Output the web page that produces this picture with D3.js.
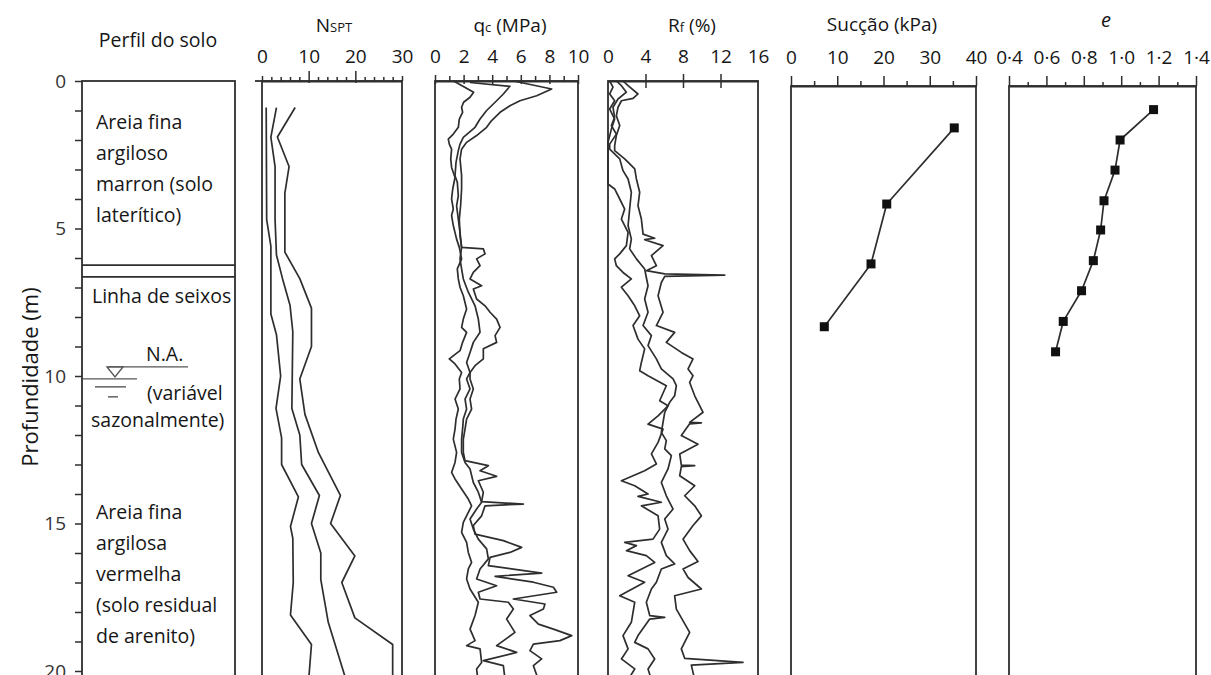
<!DOCTYPE html>
<html>
<head>
<meta charset="utf-8">
<script src="https://cdn.jsdelivr.net/npm/d3@7"></script>
<style>
    body { margin: 0; background: #fff; }
    svg { display: block; font-family: "Open Sans", sans-serif; }
</style>
</head>
<body>
<svg id="chart" width="1211" height="675"></svg>
<script>
// data (depth in m, value)
var depthTicks = d3.range(0, 21, 1);
var layerBounds = [6.24, 6.64];
var waterTable = 9.69;

var nsptLow = [[0.9,0.9],[4.7,1.0],[5.6,1.9],[7.9,1.9],[8.6,3.1],[10.0,4.0],[11.1,3.0],[12.1,4.2],[13.0,4.2],[14.1,7.8],[15.1,6.1],[15.5,6.6],[17.0,6.7],[18.1,6.1],[19.1,10.6],[20.3,10.0]];
var nsptMid = [[0.9,3.1],[1.9,1.9],[2.9,2.8],[4.7,2.8],[5.9,3.1],[6.7,4.4],[7.6,6.0],[8.5,6.6],[11.1,6.4],[12.0,8.1],[13.0,8.5],[14.05,12.3],[15.0,10.6],[16.0,12.6],[16.9,12.6],[18.35,14.2],[20.3,18.0]];
var nsptHigh = [[0.9,7.1],[1.9,3.3],[2.9,5.8],[3.8,4.9],[5.8,4.9],[6.7,8.1],[7.7,10.6],[9.0,10.6],[10.1,8.1],[11.3,9.2],[12.6,12.1],[14.05,16.8],[15.0,14.7],[16.1,19.9],[17.0,17.1],[18.2,19.9],[19.1,28.0],[20.3,28.0]];

var qcLow = [[0.0,1.3],[0.38,2.7],[0.55,2.45],[0.72,2.0],[0.89,1.86],[1.06,1.93],[1.29,1.7],[1.57,1.63],[1.8,1.28],[1.97,0.93],[2.14,1.0],[2.31,1.16],[2.64,1.1],[2.93,1.16],[3.27,1.4],[3.66,1.24],[4.0,1.16],[4.34,1.28],[4.56,1.16],[4.9,1.28],[5.36,1.51],[5.64,1.7],[6.03,1.86],[6.37,1.56],[6.71,1.63],[6.99,1.75],[7.28,1.98],[7.73,2.21],[8.07,1.98],[8.35,1.86],[8.52,2.21],[8.86,1.93],[9.14,1.75],[9.42,1.0],[9.59,1.4],[9.88,1.86],[10.1,1.7],[10.44,1.75],[10.78,1.4],[11.12,1.63],[11.46,1.47],[11.8,1.4],[12.14,1.28],[12.59,1.51],[12.93,1.4],[13.27,1.16],[13.49,1.4],[13.83,1.86],[14.17,2.33],[14.4,2.56],[14.62,2.33],[14.96,1.98],[15.3,1.86],[15.64,2.21],[15.98,2.33],[16.32,2.56],[16.54,2.33],[16.88,2.21],[17.22,2.45],[17.67,3.03],[18.12,2.8],[18.58,2.45],[18.97,2.8],[19.14,2.21],[19.25,3.15],[19.71,3.26],[19.93,2.91],[20.3,3.0]];
var qcMid = [[0.05,2.45],[0.18,5.24],[0.44,4.78],[0.67,4.31],[1.0,3.61],[1.29,3.15],[1.57,2.8],[1.91,1.98],[2.14,1.75],[2.36,1.63],[2.76,1.47],[3.21,1.4],[3.43,1.56],[3.89,1.63],[4.23,1.51],[4.68,1.63],[5.13,1.75],[5.64,1.86],[6.03,1.75],[6.37,1.86],[6.71,1.98],[7.16,2.33],[7.62,2.8],[8.07,3.03],[8.52,3.15],[8.86,2.68],[9.2,2.45],[9.54,2.21],[9.88,2.45],[10.1,2.21],[10.44,2.45],[10.78,2.1],[11.12,2.21],[11.46,1.98],[11.8,1.93],[12.14,1.86],[12.59,1.86],[12.93,2.1],[13.15,2.45],[13.61,2.68],[13.94,3.03],[14.28,3.26],[14.51,2.91],[14.85,2.45],[15.19,2.68],[15.53,3.03],[15.86,3.61],[16.2,3.73],[16.54,3.15],[16.88,2.91],[17.11,4.31],[17.33,3.03],[17.56,3.15],[17.67,5.13],[17.9,5.48],[18.24,5.01],[18.69,5.59],[19.14,4.31],[19.37,5.71],[19.65,3.38],[19.82,4.78],[20.3,4.9]];
var qcHigh = [[0.0,5.5],[0.27,8.16],[0.5,7.11],[0.67,5.94],[0.84,5.24],[1.06,4.55],[1.34,3.96],[1.57,3.61],[1.85,2.91],[2.08,2.21],[2.31,1.86],[2.64,1.75],[3.21,1.86],[3.66,1.86],[4.23,1.79],[4.68,1.7],[5.24,1.75],[5.64,1.86],[5.69,3.38],[5.86,3.5],[6.03,2.91],[6.26,3.15],[6.49,2.68],[6.71,2.45],[6.94,3.26],[7.05,2.68],[7.39,2.91],[7.62,3.5],[7.84,3.85],[8.07,4.31],[8.35,4.55],[8.63,4.2],[8.86,4.31],[9.08,3.38],[9.42,3.38],[9.65,2.8],[9.88,2.45],[10.1,2.45],[10.44,2.68],[10.78,2.45],[11.12,2.56],[11.46,2.21],[11.8,2.1],[12.14,1.98],[12.59,1.98],[12.87,2.1],[13.04,3.73],[13.21,3.15],[13.4,4.31],[13.55,3.03],[13.94,3.38],[14.26,3.26],[14.34,6.18],[14.4,3.5],[14.74,3.26],[15.07,2.68],[15.36,2.8],[15.58,4.78],[15.81,6.06],[15.98,5.24],[16.15,3.85],[16.43,3.73],[16.68,7.46],[16.79,4.2],[16.99,6.88],[17.16,8.28],[17.33,8.51],[17.56,5.48],[17.73,7.69],[17.9,7.58],[18.12,6.64],[18.41,7.23],[18.58,8.28],[18.8,9.56],[18.97,8.74],[19.09,6.88],[19.31,6.64],[19.59,7.46],[19.82,6.88],[20.3,7.23]];

var rfLow = [[0.0,0.18],[0.21,0.53],[0.44,0.18],[0.67,0.71],[0.95,0.18],[1.29,0.71],[1.63,0.36],[2.08,0],[3.49,0],[3.66,0.71],[4.0,1.25],[4.34,1.78],[4.68,1.43],[5.13,2.14],[5.58,1.96],[5.86,1.25],[6.03,0.71],[6.26,0.89],[6.49,1.6],[6.71,2.49],[6.99,1.43],[7.28,2.14],[7.62,2.85],[7.96,3.38],[8.29,2.67],[8.75,3.2],[9.08,3.91],[9.54,3.56],[9.82,3.38],[9.99,4.27],[10.33,6.22],[10.84,5.51],[11.01,6.4],[11.35,5.34],[11.63,4.27],[11.8,5.87],[12.25,5.34],[12.64,4.63],[12.98,5.16],[13.21,3.91],[13.55,1.43],[13.72,2.85],[14.0,4.27],[14.08,3.2],[14.28,5.69],[14.4,3.56],[14.74,5.34],[15.19,5.51],[15.53,4.8],[15.64,1.78],[15.75,3.03],[15.92,1.96],[16.09,4.09],[16.32,4.98],[16.77,2.14],[16.99,3.91],[17.45,1.25],[17.67,2.85],[18.35,2.49],[18.8,1.6],[19.25,2.14],[19.59,1.43],[19.93,2.85],[20.3,2.14]];
var rfMid = [[0.0,0.89],[0.16,1.43],[0.38,1.96],[0.61,1.07],[0.89,0.53],[1.23,0.71],[1.51,0.36],[1.8,0.89],[2.14,0.18],[2.31,0.18],[2.64,1.25],[3.04,1.6],[3.32,2.14],[3.77,2.49],[4.34,2.31],[4.9,2.14],[5.36,2.49],[5.69,2.31],[6.03,3.03],[6.37,3.91],[6.66,4.09],[6.94,4.27],[7.39,3.91],[7.84,4.27],[8.29,3.74],[8.63,4.63],[8.97,4.27],[9.42,5.16],[9.76,5.69],[10.1,6.94],[10.33,7.29],[10.67,7.11],[10.89,6.58],[11.23,6.05],[11.57,5.87],[11.91,5.69],[12.19,6.22],[12.47,6.05],[12.7,6.76],[13.15,6.4],[13.61,5.69],[14.06,6.22],[14.51,6.94],[14.85,6.05],[15.19,6.4],[15.64,5.69],[16.09,6.22],[16.37,7.11],[16.54,5.69],[16.99,5.16],[17.22,4.63],[17.67,4.09],[18.12,4.45],[18.18,6.05],[18.24,4.45],[18.8,3.2],[19.03,2.85],[19.25,4.27],[19.59,4.98],[19.93,4.27],[20.3,4.63]];
var rfHigh = [[0.0,1.6],[0.16,2.14],[0.44,3.2],[0.59,2.67],[0.67,1.43],[0.89,1.07],[1.18,0.89],[1.51,1.25],[1.85,0.89],[2.19,0.71],[2.36,0.71],[2.64,1.78],[2.98,2.85],[3.32,3.03],[3.77,3.38],[4.23,3.2],[4.68,3.56],[5.19,3.74],[5.33,4.98],[5.38,3.91],[5.58,5.87],[5.92,4.63],[6.26,5.16],[6.43,4.09],[6.54,6.05],[6.58,12.45],[6.62,6.05],[6.83,5.69],[7.28,5.34],[7.84,5.87],[8.29,5.16],[8.52,7.11],[8.86,6.22],[9.2,7.82],[9.42,9.07],[9.76,8.54],[9.99,9.07],[10.22,8.71],[10.67,9.25],[11.23,10.14],[11.57,8.71],[11.59,9.96],[11.62,8.71],[12.02,7.82],[12.31,9.6],[12.64,7.65],[13.02,7.82],[13.04,9.25],[13.07,7.82],[13.38,7.65],[13.72,9.25],[14.06,8.18],[14.4,9.25],[14.74,9.96],[15.07,9.07],[15.53,8.0],[15.92,8.71],[16.29,9.6],[16.54,8.0],[16.83,8.54],[17.22,9.96],[17.45,7.11],[17.9,7.29],[18.69,8.71],[19.25,7.82],[19.57,8.18],[19.71,14.4],[19.8,8.89],[20.3,9.25]];

var succaoDepth = [1.59, 4.17, 6.2, 8.33];
var succaoValues = [35.3, 20.7, 17.3, 7.2];
var eDepth = [0.97, 2.0, 3.02, 4.06, 5.05, 6.09, 7.11, 8.15, 9.18];
var eValues = [1.173, 0.994, 0.967, 0.908, 0.89, 0.851, 0.788, 0.69, 0.649];

// layout
var LINE = '#2e2e2e',
    TEXT = '#161616',
    TOP = 81,
    BOTTOM = 700;

var svg = d3.select('#chart');
var y = d3.scaleLinear().domain([0, 20]).range([TOP, 671]);

var xNspt = d3.scaleLinear().domain([0, 30]).range([262, 402]),
    xQc = d3.scaleLinear().domain([0, 10]).range([435, 578]),
    xRf = d3.scaleLinear().domain([0, 16]).range([608, 758]),
    xSuc = d3.scaleLinear().domain([0, 40]).range([791, 976]),
    xE = d3.scaleLinear().domain([0.4, 1.4]).range([1009, 1196]);

var box = function(x0, x1, top) {
    svg.append('rect')
        .attr('x', x0).attr('y', top)
        .attr('width', x1 - x0).attr('height', BOTTOM - top)
        .attr('fill', 'none')
        .attr('stroke', LINE)
        .attr('stroke-width', 1.8);
}

var topAxis = function(scale, top, values, format, tickLen, pad) {
    var axis = d3.axisTop(scale)
        .tickValues(values)
        .tickFormat(format)
        .tickSizeOuter(0)
        .tickSizeInner(0)
        .tickPadding(pad);

    var g = svg.append('g')
        .attr('transform', 'translate(0,' + top + ')')
        .call(axis)
        .attr('font-size', null)
        .attr('font-family', null);

    g.select('.domain').attr('stroke', LINE).attr('stroke-width', 1.8);
    g.selectAll('.tick line')
        .attr('stroke', LINE)
        .attr('stroke-width', 1.5)
        .attr('y1', d => tickLen(d)[1])
        .attr('y2', d => -tickLen(d)[0]);
    g.selectAll('.tick text')
        .attr('font-size', 19)
        .attr('fill', TEXT);
    return g;
}

var title = function(x, yPos, parts, anchor) {
    var t = svg.append('text')
        .attr('x', x).attr('y', yPos)
        .attr('text-anchor', anchor || 'middle')
        .attr('fill', TEXT);
    parts.forEach(p => {
        t.append('tspan')
            .attr('font-size', p.size)
            .attr('font-style', p.italic ? 'italic' : null)
            .text(p.text);
    });
}

var curve = function(data, xScale) {
    svg.append('path')
        .datum(data)
        .attr('fill', 'none')
        .attr('stroke', LINE)
        .attr('stroke-width', 1.7)
        .attr('stroke-linejoin', 'round')
        .attr('d', d3.line().x(d => xScale(d[1])).y(d => y(d[0])));
}

var markers = function(depths, values, xScale) {
    var pts = depths.map((d, i) => [d, values[i]]);
    curve(pts, xScale);
    svg.append('g').selectAll('rect')
        .data(pts)
        .enter().append('rect')
            .attr('x', d => xScale(d[1]) - 4.5)
            .attr('y', d => y(d[0]) - 4.5)
            .attr('width', 9)
            .attr('height', 9)
            .attr('fill', '#111');
}

// depth axis + soil profile
var yAxis = d3.axisLeft(y)
    .tickValues(depthTicks)
    .tickFormat(d => d % 5 === 0 ? d : '')
    .tickSizeOuter(0)
    .tickSize(7)
    .tickPadding(9);

var yg = svg.append('g')
    .attr('transform', 'translate(82,0)')
    .call(yAxis)
    .attr('font-size', null)
    .attr('font-family', null);
yg.select('.domain').remove();
yg.selectAll('.tick line').attr('stroke', LINE).attr('stroke-width', 1.5);
yg.selectAll('.tick text').attr('font-size', 19).attr('fill', '#333');

svg.append('text')
    .attr('transform', 'translate(38,377) rotate(-90)')
    .attr('text-anchor', 'middle')
    .attr('font-size', 22)
    .attr('fill', TEXT)
    .text('Profundidade (m)');

box(82, 235, TOP);
layerBounds.forEach(d => {
    svg.append('line')
        .attr('x1', 82).attr('x2', 235)
        .attr('y1', y(d)).attr('y2', y(d))
        .attr('stroke', LINE).attr('stroke-width', 1.8);
});

var soilText = [
    { x: 96, y: 129, t: 'Areia fina' },
    { x: 96, y: 160, t: 'argiloso' },
    { x: 96, y: 191, t: 'marron (solo' },
    { x: 96, y: 222, t: 'laterítico)' },
    { x: 92, y: 303, t: 'Linha de seixos' },
    { x: 146, y: 361, t: 'N.A.' },
    { x: 147, y: 400, t: '(variável' },
    { x: 91, y: 427, t: 'sazonalmente)' },
    { x: 96, y: 519, t: 'Areia fina' },
    { x: 96, y: 550, t: 'argilosa' },
    { x: 96, y: 581, t: 'vermelha' },
    { x: 96, y: 612, t: '(solo residual' },
    { x: 96, y: 643, t: 'de arenito)' }
];
svg.append('g').selectAll('text')
    .data(soilText)
    .enter().append('text')
        .attr('x', d => d.x)
        .attr('y', d => d.y)
        .attr('font-size', 19.5)
        .attr('fill', TEXT)
        .text(d => d.t);

// water table symbol
var wy = y(waterTable);
var wt = svg.append('g').attr('stroke', '#555').attr('stroke-width', 1.4).attr('fill', 'none');
wt.append('line').attr('x1', 108).attr('x2', 188).attr('y1', wy).attr('y2', wy);
wt.append('path').attr('d', 'M107,' + wy + 'L123,' + wy + 'L115,' + (wy + 10) + 'Z');
wt.append('line').attr('x1', 83).attr('x2', 137).attr('y1', wy + 12).attr('y2', wy + 12);
wt.append('line').attr('x1', 95).attr('x2', 126).attr('y1', wy + 20).attr('y2', wy + 20);
wt.append('line').attr('x1', 108).attr('x2', 118).attr('y1', wy + 30).attr('y2', wy + 30);

title(158, 47, [{ text: 'Perfil do solo', size: 19.5 }]);

// NSPT
box(262, 402, TOP);
topAxis(xNspt, TOP, d3.range(0, 31, 2), d => d % 10 === 0 ? d : '',
    d => (d === 10 || d === 20) ? [10, 2] : (d % 10 === 0 ? [5, 0] : [4, 0]), 18);
svg.append('line').attr('x1', 255).attr('x2', 262).attr('y1', TOP).attr('y2', TOP)
    .attr('stroke', LINE).attr('stroke-width', 1.8);
title(334, 32, [{ text: 'N', size: 19 }, { text: 'SPT', size: 13 }]);
curve(nsptLow, xNspt);
curve(nsptMid, xNspt);
curve(nsptHigh, xNspt);

// qc
box(435, 578, TOP);
topAxis(xQc, TOP, d3.range(0, 11, 1), d => d % 2 === 0 ? d : '',
    d => d % 2 === 0 ? [6, 3] : [5, 0], 18);
title(510, 32, [{ text: 'q', size: 19 }, { text: 'c', size: 13 }, { text: ' (MPa)', size: 19 }]);
curve(qcLow, xQc);
curve(qcMid, xQc);
curve(qcHigh, xQc);

// Rf
box(608, 758, TOP);
topAxis(xRf, TOP, [0, 4, 8, 12, 16], d => d,
    d => (d === 0 || d === 16) ? [0, 0] : [7, 7], 18);
title(692, 32, [{ text: 'R', size: 19 }, { text: 'f', size: 13 }, { text: ' (%)', size: 19 }]);
curve(rfLow, xRf);
curve(rfMid, xRf);
curve(rfHigh, xRf);

// Succao
var TOP2 = 86;
box(791, 976, TOP2);
topAxis(xSuc, TOP2, d3.range(0, 41, 5), d => d % 10 === 0 ? d : '',
    d => d % 10 === 0 ? [10, 0] : [5, 0], 22);
title(882, 31, [{ text: 'Sucção (kPa)', size: 19 }]);
markers(succaoDepth, succaoValues, xSuc);

// e
box(1009, 1196, TOP2);
var eTicks = d3.range(4, 15, 1).map(d => d / 10);
topAxis(xE, TOP2, eTicks, d => Math.round(d * 10) % 2 === 0 ? d3.format('.1f')(d).replace('.', '·') : '',
    d => Math.round(d * 10) % 2 === 0 ? [10, 0] : [4, 0], 22);
title(1106, 27, [{ text: 'e', size: 20, italic: true }]);
markers(eDepth, eValues, xE);
</script>
</body>
</html>
